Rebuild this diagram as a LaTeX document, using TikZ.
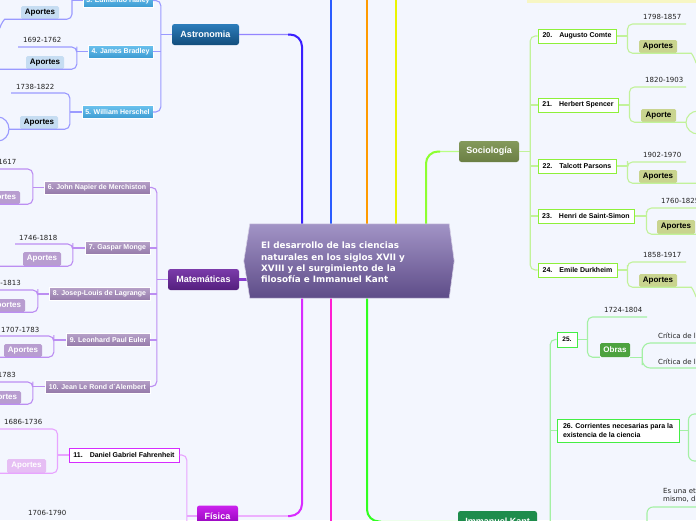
\documentclass[tikz,border=0pt]{standalone}
\usepackage{fontspec}
\setmainfont{DejaVu Sans}
\newfontfamily\lib{Liberation Sans}
\usetikzlibrary{calc}
\definecolor{bg}{HTML}{F3F6FE}
\definecolor{cTop}{HTML}{A294C6}
\definecolor{cBot}{HTML}{5E4C88}
\definecolor{astroT}{HTML}{3A1FFF}
\definecolor{blueT}{HTML}{2A5CFF}
\definecolor{orangeT}{HTML}{FF9A00}
\definecolor{yellowT}{HTML}{EAF500}
\definecolor{socioT}{HTML}{8CFF30}
\definecolor{mathT}{HTML}{8A3FD0}
\definecolor{physT}{HTML}{D82CFF}
\definecolor{pinkT}{HTML}{FF1ED2}
\definecolor{kantT}{HTML}{30FF20}
\definecolor{astroB}{HTML}{9A9AFF}
\definecolor{mathB}{HTML}{BC8EF2}
\definecolor{physB}{HTML}{E8A4FF}
\definecolor{socioB}{HTML}{C2F29A}
\definecolor{kantB}{HTML}{A4F0A4}
\definecolor{astroTop}{HTML}{2C7DBB}
\definecolor{astroBot}{HTML}{124D7C}
\definecolor{astroCTop}{HTML}{6CC2EE}
\definecolor{astroCBot}{HTML}{3C9BD2}
\definecolor{astroAp}{HTML}{C6DDF2}
\definecolor{mathTop}{HTML}{7B3BAA}
\definecolor{mathBot}{HTML}{541F7E}
\definecolor{mathCTop}{HTML}{B6A0C8}
\definecolor{mathCBot}{HTML}{9479A9}
\definecolor{mathAp}{HTML}{B89DD0}
\definecolor{physTop}{HTML}{CC22EE}
\definecolor{physBot}{HTML}{8C00B4}
\definecolor{physBd}{HTML}{D52CFF}
\definecolor{physAp}{HTML}{E6BEF4}
\definecolor{socTop}{HTML}{84995B}
\definecolor{socBot}{HTML}{6B7F44}
\definecolor{socBd}{HTML}{8EF03A}
\definecolor{socAp}{HTML}{C9D48F}
\definecolor{kantFill}{HTML}{1E8C4C}
\definecolor{kantBd}{HTML}{44EE44}
\definecolor{obrasFill}{HTML}{4DA23F}
\definecolor{paleY}{HTML}{F7F6C4}
\definecolor{dateC}{HTML}{222222}
\begin{document}
\begin{tikzpicture}[x=1pt,y=-1pt,
  trunk/.style={line width=2.4pt, rounded corners=12pt},
  midtrunk/.style={line width=2pt, rounded corners=12pt},
  thintrunk/.style={line width=1.2pt, rounded corners=12pt},
  br/.style={line width=1.1pt, rounded corners=5pt},
  topic/.style={rounded corners=2.5pt, text=white, inner sep=0pt, font=\lib\bfseries\fontsize{9}{10}\selectfont},
  sub/.style={inner sep=0pt, font=\lib\bfseries\fontsize{7}{8}\selectfont},
  astroC/.style={sub, top color=astroCTop, bottom color=astroCBot, draw=white, line width=0.4pt, text=white, minimum height=13pt},
  mathC/.style={sub, top color=mathCTop, bottom color=mathCBot, draw=white, line width=0.4pt, text=white, minimum height=13pt},
  wbox/.style={sub, fill=white, line width=1pt, text=black, minimum height=14pt},
  datetxt/.style={inner sep=0pt, font=\fontsize{7}{8}\selectfont, text=dateC},
  apo/.style={rounded corners=1.5pt, inner sep=0pt, minimum height=13pt, minimum width=38pt, font=\lib\bfseries\fontsize{8}{9}\selectfont},
]
\useasboundingbox (0,0) rectangle (696,520);
\fill[bg] (0,0) rectangle (696,520);
\clip (0,0) rectangle (696,520);

% ---------- central node box (shape drawn later)
\node[minimum width=210pt, minimum height=74pt, inner sep=0pt] (center) at (349,261) {};

% ---------- topic nodes
\node[topic, top color=astroTop, bottom color=astroBot, minimum width=67pt, minimum height=21pt] (astro) at (205.5,34.5) {Astronomia};
\node[topic, top color=mathTop, bottom color=mathBot, minimum width=71pt, minimum height=21pt] (math) at (203.5,279.5) {Matemáticas};
\node[topic, top color=physTop, bottom color=physBot, minimum width=41pt, minimum height=21pt] (fisica) at (217.5,516) {Física};
\node[topic, top color=socTop, bottom color=socBot, minimum width=60pt, minimum height=21pt] (socio) at (489,151.5) {Sociología};
\node[topic, fill=kantFill, minimum width=79pt, minimum height=21pt] (kant) at (497.5,521.5) {Immanuel Kant};
\node[fill=paleY, inner sep=0pt, minimum width=170pt, minimum height=14pt] (ytop) at (612,-4) {};

% ---------- trunks (tapered: thin near topic node, thick near centre)
\draw[thintrunk, astroT!55!white] ([xshift=-47pt]center.north) |- (astro.east);
\draw[midtrunk, astroT] ([xshift=-47pt]center.north) |- ($([xshift=-47pt]center.north |- astro.east)+(-14,0)$);
\draw[trunk, astroT] ([xshift=-47pt]center.north) -- ($([xshift=-47pt]center.north |- astro.east)+(0,14)$);
\draw[trunk, blueT] ([xshift=-18pt]center.north) -- ++(0,-235);
\draw[trunk, orangeT] ([xshift=18pt]center.north) -- ++(0,-235);
\draw[trunk, yellowT] ([xshift=47pt]center.north) -- ++(0,-235);
\draw[thintrunk, socioT!60!white] ([xshift=77pt]center.north) |- (socio.west);
\draw[midtrunk, socioT] ([xshift=77pt]center.north) |- ($([xshift=77pt]center.north |- socio.west)+(14,0)$);
\draw[trunk, socioT] ([xshift=77pt]center.north) -- ($([xshift=77pt]center.north |- socio.west)+(0,14)$);
\draw[trunk, mathT] (math.east) -- ([xshift=8pt]math.east -| center.west);
\draw[thintrunk, physT!55!white] ([xshift=-47pt]center.south) |- (fisica.east);
\draw[midtrunk, physT] ([xshift=-47pt]center.south) |- ($([xshift=-47pt]center.south |- fisica.east)+(-14,0)$);
\draw[trunk, physT] ([xshift=-47pt]center.south) -- ($([xshift=-47pt]center.south |- fisica.east)+(0,-14)$);
\draw[trunk, pinkT] ([xshift=-18pt]center.south) -- ++(0,235);
\draw[thintrunk, kantT!70!white] ([xshift=18pt]center.south) |- (kant.west);
\draw[midtrunk, kantT] ([xshift=18pt]center.south) |- ($([xshift=18pt]center.south |- kant.west)+(14,0)$);
\draw[trunk, kantT] ([xshift=18pt]center.south) -- ($([xshift=18pt]center.south |- kant.west)+(0,-14)$);

% ---------- central hexagon + title
\shade[top color=cTop, bottom color=cBot, draw=white!55!cTop, line width=0.6pt]
  (center.west) -- ([xshift=6pt]center.north west) -- ([xshift=-5pt]center.north east)
  -- (center.east) -- ([xshift=-5pt]center.south east) -- ([xshift=6pt]center.south west) -- cycle;
\node[anchor=west, align=left, inner sep=0pt, text=white, font=\bfseries\fontsize{8.8}{11.3}\selectfont] (ctitle) at (261,262.5)
  {El desarrollo de las ciencias\\naturales en los siglos XVII y\\XVIII y el surgimiento de la\\filosofía e Immanuel Kant};

% ================= ASTRONOMIA
\node[astroC, minimum width=70pt] (halley) at (118,0.5) {3. Edmundo Halley};
\node[astroC, minimum width=65pt] (bradley) at (120.5,51.5) {4. James Bradley};
\node[astroC, minimum width=71pt] (herschel) at (117.5,112) {5. William Herschel};
\draw[br, astroB] (halley.east) -| ([xshift=-11pt]astro.west) |- (herschel.east);
\draw[br, astroB] (astro.west) -- ++(-11,0);
\draw[br, astroB] (bradley.east) -- ++(8,0);

% Halley
\node[apo, fill=astroAp, text=black] (hap) at (40,12.5) {Aportes};
\coordinate (hTop) at (72,-20);
\draw[br, astroB] (halley.west) -- ++(-11,0);
\draw[br, astroB] (hTop) |- (hap.south east) -- (hap.south west) -- ++(-11,0) to[out=180,in=75] ++(-10,9);
% Bradley
\node[datetxt, anchor=base west] (bd) at (23,42.5) {1692-1762};
\node[apo, fill=astroAp, text=black] (bap) at (45,62.5) {Aportes};
\coordinate (bEnd) at (18,47);
\draw[br, astroB] (bradley.west) -- ++(-11,0);
\draw[br, astroB] (bEnd) -| ([xshift=-11pt]bradley.west) |- (bap.south east) -- (bap.south west) -- ++(-30,0);
% Herschel
\node[datetxt, anchor=base west] (hsd) at (16,89.3) {1738-1822};
\node[apo, fill=astroAp, text=black] (hsap) at (39,122.5) {Aportes};
\coordinate (hsEnd) at (11,93);
\draw[br, astroB] (herschel.west) -- ++(-12,0);
\draw[br, astroB] (hsEnd) -| ([xshift=-12pt]herschel.west) |- (hsap.south east) -- (hsap.south west) -- ++(-11,0);
\draw[line width=1.1pt, astroB] (-2,117) to[out=0,in=90] (9,129) to[out=-90,in=0] (-2,141);

% ================= MATEMATICAS
\node[mathC, minimum width=106pt] (napier) at (97,187.5) {6. John Napier de Merchiston};
\node[mathC, minimum width=65pt] (monge) at (117.5,248) {7. Gaspar Monge};
\node[mathC, minimum width=101pt] (lagrange) at (99.5,294) {8. Josep-Louis de Lagrange};
\node[mathC, minimum width=84pt] (euler) at (108,340) {9. Leonhard Paul Euler};
\node[mathC, minimum width=105pt] (alembert) at (97.5,386.5) {10. Jean Le Rond d´Alembert};
\draw[br, mathB] (napier.east) -| ([xshift=-11pt]math.west) |- (alembert.east);
\draw[br, mathB] (math.west) -- ++(-11,0);
\draw[br, mathB] (monge.east) -- ++(7,0);
\draw[br, mathB] (lagrange.east) -- ++(7,0);
\draw[br, mathB] (euler.east) -- ++(7,0);

% Napier
\node[datetxt, anchor=base east] (nd) at (16.5,164.3) {1550-1617};
\node[apo, fill=mathAp, text=white] (nap) at (1,197.5) {Aportes};
\coordinate (nEnd) at (-3,169);
\draw[br, mathB] (napier.west) -- ++(-11,0);
\draw[br, mathB] (nEnd) -| ([xshift=-11pt]napier.west) |- (nap.south east) -- (nap.south west) -- ++(-5,0);
% Monge
\node[datetxt, anchor=base west] (md) at (19,240) {1746-1818};
\node[apo, fill=mathAp, text=white, minimum height=14pt] (mgap) at (42,259) {Aportes};
\coordinate (mEnd) at (15,244);
\draw[br, mathB] (monge.west) -- ++(-12,0);
\draw[br, mathB] (mEnd) -| ([xshift=-12pt]monge.west) |- (mgap.south east) -- (mgap.south west) -- ++(-30,0);
% Lagrange
\node[datetxt, anchor=base east] (ld) at (21,285.7) {1736-1813};
\node[apo, fill=mathAp, text=white] (lgap) at (6,305.5) {Aportes};
\coordinate (lEnd) at (-3,290);
\draw[br, mathB] (lagrange.west) -- ++(-11,0);
\draw[br, mathB] (lEnd) -| ([xshift=-11pt]lagrange.west) |- (lgap.south east) -- (lgap.south west) -- ++(-15,0);
% Euler
\node[datetxt, anchor=base west] (ed) at (1,332) {1707-1783};
\node[apo, fill=mathAp, text=white] (euap) at (23,350.5) {Aportes};
\coordinate (eEnd) at (-3,336);
\draw[br, mathB] (euler.west) -- ++(-12,0);
\draw[br, mathB] (eEnd) -| ([xshift=-12pt]euler.west) |- (euap.south east) -- (euap.south west) -- ++(-10,0);
% d'Alembert
\node[datetxt, anchor=base east] (ad) at (16,377.7) {1717-1783};
\node[apo, fill=mathAp, text=white] (alap) at (2,397.5) {Aportes};
\coordinate (aEnd) at (-3,382);
\draw[br, mathB] (alembert.west) -- ++(-12,0);
\draw[br, mathB] (aEnd) -| ([xshift=-12pt]alembert.west) |- (alap.south east) -- (alap.south west) -- ++(-10,0);

% ================= FISICA
\node[wbox, draw=physBd, minimum width=110pt] (fahr) at (124,455) {11.\hspace{7pt}Daniel Gabriel Fahrenheit};
\draw[br, physB] (fahr.east) -| ([xshift=-10pt]fisica.west) -- ++(0,20);
\draw[br, physB] (fisica.west) -- ++(-10,0);
\node[datetxt, anchor=base west] (fd) at (4,424) {1686-1736};
\node[apo, fill=physAp, text=white, minimum width=39pt, minimum height=14pt] (fap) at (26.5,466) {Aportes};
\coordinate (fEnd) at (-3,429);
\draw[br, physB] (fahr.west) -- ++(-11,0);
\draw[br, physB] (fEnd) -| ([xshift=-11pt]fahr.west) |- (fap.south east) -- (fap.south west) -- ++(-10,0);
\node[datetxt, anchor=base west] (fd2) at (28,515.7) {1706-1790};

% ================= SOCIOLOGIA
\node[wbox, draw=socBd, minimum width=78pt] (comte) at (577,36) {20.\hspace{7pt}Augusto Comte};
\node[wbox, draw=socBd, minimum width=80pt] (spencer) at (578,105) {21.\hspace{7pt}Herbert Spencer};
\node[wbox, draw=socBd, minimum width=78pt] (parsons) at (577,166) {22.\hspace{7pt}Talcott Parsons};
\node[wbox, draw=socBd, minimum width=96pt] (simon) at (586,216) {23.\hspace{7pt}Henri de Saint-Simon};
\node[wbox, draw=socBd, minimum width=79pt] (durk) at (577.5,270) {24.\hspace{7pt}Emile Durkheim};
\draw[br, socioB] (comte.west) -| ([xshift=11pt]socio.east) |- (durk.west);
\draw[br, socioB] (socio.east) -- ++(11,0);
\draw[br, socioB] (spencer.west) -- ++(-8,0);
\draw[br, socioB] (parsons.west) -- ++(-8,0);
\draw[br, socioB] (simon.west) -- ++(-8,0);

% Comte
\node[datetxt, anchor=base west] (cd) at (643,19.3) {1798-1857};
\node[apo, fill=socAp, text=black] (cap) at (658,46.5) {Aportes};
\coordinate (cEnd) at (686,24);
\draw[br, socioB] (comte.east) -- ++(11,0);
\draw[br, socioB] (cEnd) -| ([xshift=11pt]comte.east) |- (cap.south west) -- (cap.south east) -- ++(9,0) to[out=0,in=110] ++(10,10);
% Spencer
\node[datetxt, anchor=base west] (sd) at (645,82.7) {1820-1903};
\node[apo, fill=socAp, text=black, minimum width=35pt] (sap) at (658.5,115.5) {Aporte};
\coordinate (sEnd) at (686,87);
\draw[br, socioB] (spencer.east) -- ++(11,0);
\draw[br, socioB] (sEnd) -| ([xshift=11pt]spencer.east) |- (sap.south west) -- (sap.south east) -- ++(10,0);
\draw[line width=1.1pt, socioB] (698,111) to[out=180,in=90] (686,122.5) to[out=-90,in=180] (698,134);
% Parsons
\node[datetxt, anchor=base west] (pd) at (643,157.3) {1902-1970};
\node[apo, fill=socAp, text=black] (pap) at (658,176.5) {Aportes};
\coordinate (pEnd) at (686,162);
\draw[br, socioB] (parsons.east) -- ++(11,0);
\draw[br, socioB] (pEnd) -| ([xshift=11pt]parsons.east) |- (pap.south west) -- (pap.south east) -- ++(25,0);
% Saint-Simon
\node[datetxt, anchor=base west] (ssd) at (661,203.3) {1760-1825};
\node[apo, fill=socAp, text=black, minimum height=14pt] (ssap) at (676,227) {Aportes};
\coordinate (ssEnd) at (700,208);
\draw[br, socioB] (simon.east) -- ++(12,0);
\draw[br, socioB] (ssEnd) -| ([xshift=12pt]simon.east) |- (ssap.south west) -- (ssap.south east) -- ++(8,0);
% Durkheim
\node[datetxt, anchor=base west] (dd) at (643,257.7) {1858-1917};
\node[apo, fill=socAp, text=black] (dap) at (658,280.5) {Aportes};
\coordinate (dEnd) at (686,262);
\draw[br, socioB] (durk.east) -- ++(10,0);
\draw[br, socioB] (dEnd) -| ([xshift=10pt]durk.east) |- (dap.south west) -- (dap.south east) -- ++(9,0) to[out=0,in=110] ++(10,10);

% ================= KANT
\node[wbox, draw=kantBd, minimum width=20pt, minimum height=15pt, font=\lib\bfseries\fontsize{6.5}{7}\selectfont] (k25) at (567,339.5) {25.};
\node[wbox, draw=kantBd, minimum width=122pt, minimum height=23pt, align=left, font=\lib\bfseries\fontsize{7}{8.3}\selectfont] (k26) at (618,430.5) {26. Corrientes necesarias para la\\existencia de la ciencia};
\draw[br, kantB] (k25.west) -| ([xshift=13pt]kant.east) -- ++(0,10);
\draw[br, kantB] (kant.east) -- ++(13,0);
\draw[br, kantB] (k26.west) -- ++(-7,0);
% 25
\node[datetxt, anchor=base west] (kd) at (604,312.7) {1724-1804};
\node[apo, fill=obrasFill, text=white, minimum width=30pt, minimum height=14pt] (obras) at (615,350) {Obras};
\coordinate (kEnd) at (647,317);
\draw[br, kantB] (k25.east) -- ++(10,0);
\draw[br, kantB] (kEnd) -| ([xshift=10pt]k25.east) |- (obras.south west);
\draw[br, kantB] (obras.south east) -- ++(12,0) coordinate (oX);
\coordinate (oT) at (700,343);
\coordinate (oB) at (700,368);
\draw[br, kantB, rounded corners=8pt] (oT) -| (oX) |- (oB);
\node[datetxt, anchor=base west] (cr1) at (658,338.7) {Crítica de la razón pura};
\node[datetxt, anchor=base west] (cr2) at (658,364) {Crítica de la razón práctica};
% 26
\draw[br, kantB] (k26.east) -- ++(9,0) coordinate (k26X);
\coordinate (k26T) at (700,414);
\coordinate (k26B) at (700,461);
\draw[br, kantB, rounded corners=6pt] (k26T) -| (k26X) |- (k26B);
\node[datetxt, anchor=base west] (es1) at (663,493.3) {Es una etapa};
\node[datetxt, anchor=base west] (es2) at (663,501.7) {mismo, de};
\coordinate (k27T) at (700,507);
\coordinate (k27B) at (647,530);
\draw[br, kantB, rounded corners=6pt] (k27T) -| (k27B);
\end{tikzpicture}
\end{document}
